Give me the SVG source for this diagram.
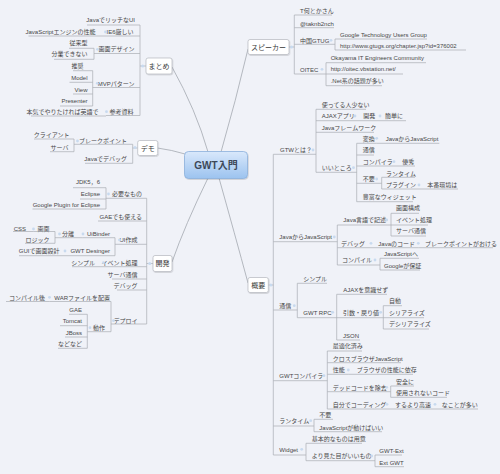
<svg xmlns="http://www.w3.org/2000/svg" width="500" height="474" viewBox="0 0 500 474">
<defs>
<linearGradient id="cg" x1="0" y1="0" x2="0" y2="1"><stop offset="0" stop-color="#d9e8fb"/><stop offset="1" stop-color="#9cc3ef"/></linearGradient>
<filter id="sh" x="-20%" y="-20%" width="140%" height="150%"><feDropShadow dx="0.6" dy="0.8" stdDeviation="0.6" flood-color="#000" flood-opacity="0.18"/></filter>
</defs>
<style>
text{font-family:"Liberation Sans","Noto Sans CJK JP",sans-serif;font-size:6px;fill:#474747}
.e{text-anchor:end}
.u{stroke:#a9adb3;stroke-width:0.7;fill:none}
.c{stroke:#a9adb3;stroke-width:0.7;fill:none}
.mc{stroke:#a3a8b0;stroke-width:0.8;fill:none}
.m{fill:#c8daef}
.box{fill:#fff;stroke:#b4b8be;stroke-width:0.7;filter:url(#sh)}
.bt{font-size:7px;text-anchor:middle;fill:#383838}
</style>
<rect width="500" height="474" fill="#f0f2f8"/>

<g id="connectors">
<path class="mc" d="M208 152 Q196 110 172 67"/>
<path class="mc" d="M221 152 Q236 100 248 49"/>
<path class="mc" d="M185 154 Q172 150 157.5 148"/>
<path class="mc" d="M208 178 Q185 225 172 262"/>
<path class="mc" d="M219 178 Q235 235 248 283"/>
<path class="c" d="M140 25V115.5M140 66H146"/>
<path class="c" d="M94 48.3V59.3"/>
<path class="c" d="M92.7 70.7V106"/>
<path class="c" d="M132.7 144.3V163.3M132.7 148H137.7"/>
<path class="c" d="M74 139V151.7"/>
<path class="c" d="M146.7 198.3V324M146.7 263.5H153"/>
<path class="c" d="M106 187.7V209"/>
<path class="c" d="M115 237.7V255.7"/>
<path class="c" d="M55 231.5V243.3"/>
<path class="c" d="M111 301.5V331.7"/>
<path class="c" d="M87.3 314.3V348.3"/>
<path class="c" d="M294.3 15V74M289 47H294.3"/>
<path class="c" d="M335 39V50"/>
<path class="c" d="M326 62.7V85.7"/>
<path class="c" d="M273.3 154.3V455M268.3 285H273.3"/>
<path class="c" d="M316 109.3V172.3"/>
<path class="c" d="M356.7 143.3V201.7"/>
<path class="c" d="M381.7 177.3V189"/>
<path class="c" d="M337.3 225V265"/>
<path class="c" d="M391 213.3V236"/>
<path class="c" d="M380 258.3V270"/>
<path class="c" d="M297.3 283.3V317.7"/>
<path class="c" d="M336.7 294.3V340"/>
<path class="c" d="M383.3 305.7V329"/>
<path class="c" d="M327.3 351V409"/>
<path class="c" d="M390.7 386V397.3"/>
<path class="c" d="M314 419.3V431.7"/>
<path class="c" d="M306 443.3V460.7"/>
<path class="c" d="M375 455V466.7"/>
</g>

<g id="central"><rect x="184.5" y="151.5" width="63" height="27" rx="4" fill="url(#cg)" stroke="#8cb0dc" stroke-width="0.8" filter="url(#sh)"/><text x="216" y="168.6" style="font-size:10px;font-weight:bold;text-anchor:middle;fill:#3c4858">GWT入門</text></g>

<g id="matome"><rect class="box" x="146" y="58" width="26" height="16" rx="2"/><text class="bt" x="159" y="68.5">まとめ</text><circle class="m" cx="142.7" cy="66" r="1.5"/></g>
<g id="demo"><rect class="box" x="137.7" y="140.5" width="20" height="15" rx="2"/><text class="bt" x="147.7" y="150.5">デモ</text><circle class="m" cx="135" cy="147.5" r="1.5"/></g>
<g id="kaihatsu"><rect class="box" x="153" y="255.5" width="19" height="16" rx="2"/><text class="bt" x="162.5" y="266">開発</text><circle class="m" cx="149.7" cy="263.5" r="1.5"/></g>
<g id="speaker"><rect class="box" x="248" y="39.5" width="41" height="15" rx="2"/><text class="bt" x="268.5" y="49.5">スピーカー</text><circle class="m" cx="291.6" cy="47" r="1.5"/></g>
<g id="gaiyou"><rect class="box" x="248" y="277.5" width="20.3" height="15" rx="2"/><text class="bt" x="258.2" y="287.5">概要</text><circle class="m" cx="270.8" cy="285" r="1.5"/></g>

<g id="m1"><text class="e" x="135" y="22.2">JavaでリッチなUI</text><path class="u" d="M87 25H140"/></g>
<g id="m2"><text class="e" x="133.5" y="33.8">IE6厳しい</text><path class="u" d="M104 36H140"/><circle class="m" cx="105.5" cy="32" r="1.4"/></g>
<g id="m2a"><text class="e" x="95.5" y="33.8">JavaScriptエンジンの性能</text><path class="u" d="M28.5 36H104"/></g>
<g id="m3"><text class="e" x="134.5" y="51.3">画面デザイン</text><path class="u" d="M94 53.5H140"/><circle class="m" cx="97.5" cy="49.3" r="1.4"/></g>
<g id="m3a"><text class="e" x="87.5" y="44.9">従来型</text><path class="u" d="M69 48.3H94"/></g>
<g id="m3b"><text class="e" x="87.5" y="55.5">分業できない</text><path class="u" d="M54 59.3H94"/></g>
<g id="m4"><text class="e" x="134.5" y="85.5">MVPパターン</text><path class="u" d="M92.7 87.5H140"/><circle class="m" cx="97.3" cy="83.3" r="1.4"/></g>
<g id="m4a"><text class="e" x="83.5" y="68.2">推奨</text><path class="u" d="M73 70.7H92.7"/></g>
<g id="m4b"><text class="e" x="87.5" y="79.5">Model</text><path class="u" d="M69.5 82.3H92.7"/></g>
<g id="m4c"><text class="e" x="87.5" y="91.5">View</text><path class="u" d="M73 94H92.7"/></g>
<g id="m4d"><text class="e" x="87.5" y="102.9">Presenter</text><path class="u" d="M60 106H92.7"/></g>
<g id="m5"><text class="e" x="133.5" y="113.9">参考資料</text><path class="u" d="M106 115.5H140"/><circle class="m" cx="106.5" cy="111.7" r="1.4"/></g>
<g id="m5a"><text class="e" x="98.5" y="113.9">本気でやりたければ英語で</text><path class="u" d="M31 116H106"/></g>

<g id="d1"><text class="e" x="127" y="143.2">ブレークポイント</text><path class="u" d="M74 144.3H132.7"/><circle class="m" cx="77.5" cy="141" r="1.4"/></g>
<g id="d1a"><text class="e" x="69.5" y="137.2">クライアント</text><path class="u" d="M34 139H74"/></g>
<g id="d1b"><text class="e" x="68.5" y="149.5">サーバ</text><path class="u" d="M50 151.7H74"/></g>
<g id="d2"><text class="e" x="127" y="160.5">Javaでデバッグ</text><path class="u" d="M85 163.3H132.7"/></g>

<g id="k1"><text class="e" x="142" y="196.2">必要なもの</text><path class="u" d="M106 198.3H146.7"/><circle class="m" cx="108.5" cy="194" r="1.4"/></g>
<g id="k1a"><text class="e" x="100" y="183.9">JDK5，6</text><path class="u" d="M73 187.7H106"/></g>
<g id="k1b"><text class="e" x="100" y="196.2">Eclipse</text><path class="u" d="M80 199H106"/></g>
<g id="k1c"><text class="e" x="100" y="207.2">Google Plugin for Eclipse</text><path class="u" d="M32.5 209H106"/></g>
<g id="k2"><text class="e" x="142" y="218.9">GAEでも使える</text><path class="u" d="M98 221H146.7"/></g>
<g id="k3"><text class="e" x="137.5" y="242.2">UI作成</text><path class="u" d="M115 244.3H146.7"/><circle class="m" cx="119.5" cy="240" r="1.4"/></g>
<g id="k3a"><text class="e" x="110" y="236.2">UiBinder</text><path class="u" d="M82.7 237.7H115"/><circle class="m" cx="83" cy="234" r="1.4"/></g>
<g id="k3a1"><text class="e" x="74" y="236.2">分離</text><path class="u" d="M55 237.7H82.7"/><circle class="m" cx="59.5" cy="234" r="1.4"/></g>
<g id="k3a1a"><text class="e" x="49.5" y="231.2">画面</text><path class="u" d="M33.3 231.5H55"/><circle class="m" cx="33.5" cy="229" r="1.4"/></g>
<g id="k3a1a1"><text class="e" x="26" y="230.7">CSS</text><path class="u" d="M13 231.5H33.3"/></g>
<g id="k3a1b"><text class="e" x="49.5" y="242.2">ロジック</text><path class="u" d="M25 243.3H55"/></g>
<g id="k3b"><text class="e" x="110" y="253.2">GWT Desinger</text><path class="u" d="M65 255.7H115"/><circle class="m" cx="65" cy="251" r="1.4"/></g>
<g id="k3b1"><text class="e" x="59.5" y="253.2">GUIで画面設計</text><path class="u" d="M19 255.7H65"/></g>
<g id="k4"><text class="e" x="137.5" y="264.9">イベント処理</text><path class="u" d="M103 266.7H146.7"/><circle class="m" cx="103.5" cy="262.7" r="1.4"/></g>
<g id="k4a"><text class="e" x="95" y="264.9">シンプル</text><path class="u" d="M72 266.7H103"/></g>
<g id="k5"><text class="e" x="137.5" y="277.2">サーバ通信</text><path class="u" d="M112 279H146.7"/></g>
<g id="k6"><text class="e" x="137.5" y="288.2">デバッグ</text><path class="u" d="M117 290H146.7"/></g>
<g id="k7"><text class="e" x="137.5" y="322.9">デプロイ</text><path class="u" d="M111 324H146.7"/><circle class="m" cx="113.5" cy="320.7" r="1.4"/></g>
<g id="k7a"><text class="e" x="110" y="299.5">WARファイルを配置</text><path class="u" d="M49.3 301.5H111"/><circle class="m" cx="49.5" cy="297.3" r="1.4"/></g>
<g id="k7a1"><text class="e" x="45" y="299.5">コンパイル後</text><path class="u" d="M6 301.5H49.3"/></g>
<g id="k7b"><text class="e" x="105" y="329.9">動作</text><path class="u" d="M87.3 331.7H111"/><circle class="m" cx="90" cy="327.7" r="1.4"/></g>
<g id="k7b1"><text class="e" x="82" y="311.5">GAE</text><path class="u" d="M69 314.3H87.3"/></g>
<g id="k7b2"><text class="e" x="82" y="322.9">Tomcat</text><path class="u" d="M60 325.7H87.3"/></g>
<g id="k7b3"><text class="e" x="82" y="334.5">JBoss</text><path class="u" d="M65 337H87.3"/></g>
<g id="k7b4"><text class="e" x="82" y="345.5">などなど</text><path class="u" d="M58 348.3H87.3"/></g>

<g id="s1"><text x="300" y="13.2">T何とかさん</text><path class="u" d="M294.3 15H332"/></g>
<g id="s2"><text x="300" y="25.5">@taknb2nch</text><path class="u" d="M294.3 27.7H334"/></g>
<g id="s3"><text x="300" y="42.5">中国GTUG</text><path class="u" d="M294.3 44.3H335"/><circle class="m" cx="331" cy="40.3" r="1.4"/></g>
<g id="s3a"><text x="340" y="36.5">Google Technology Users Group</text><path class="u" d="M335 39H427"/></g>
<g id="s3b"><text x="340" y="47.9">http://www.gtugs.org/chapter.jsp?id=376002</text><path class="u" d="M335 50H466"/></g>
<g id="s4"><text x="300" y="71.5">OITEC</text><path class="u" d="M294.3 74H326"/><circle class="m" cx="322" cy="69.3" r="1.4"/></g>
<g id="s4a"><text x="330.7" y="59.5">Okayama IT Engineers Community</text><path class="u" d="M326 62.7H426"/></g>
<g id="s4b"><text x="330.7" y="71.2">http://oitec.vbstation.net/</text><path class="u" d="M326 74H403"/></g>
<g id="s4c"><text x="330.7" y="82.9">.Net系の話題が多い</text><path class="u" d="M326 85.7H382"/></g>

<g id="g1"><text x="280" y="152.2">GTWとは？</text><path class="u" d="M273.3 154.3H316"/><circle class="m" cx="313" cy="150" r="1.4"/></g>
<g id="g1a"><text x="321.7" y="106.5">使ってる人少ない</text><path class="u" d="M316 109.3H366"/></g>
<g id="g1b"><text x="321.7" y="118.2">AJAXアプリ</text><path class="u" d="M316 120.7H355"/><circle class="m" cx="355" cy="116" r="1.4"/></g>
<g id="g1b1"><text x="363.3" y="118.2">開発</text><path class="u" d="M355 120.7H380"/><circle class="m" cx="380" cy="116" r="1.4"/></g>
<g id="g1b1a"><text x="385" y="118.2">簡単に</text><path class="u" d="M380 120.7H406"/></g>
<g id="g1c"><text x="321.7" y="129.9">Javaフレームワーク</text><path class="u" d="M316 132.3H374"/></g>
<g id="g1d"><text x="321.7" y="169.9">いいところ</text><path class="u" d="M316 172.3H356.7"/><circle class="m" cx="353.5" cy="167.7" r="1.4"/></g>
<g id="g1d1"><text x="362.7" y="140.5">変換</text><path class="u" d="M356.7 143.3H376.7"/><circle class="m" cx="376.7" cy="138.3" r="1.4"/></g>
<g id="g1d1a"><text x="385.7" y="140.5">JavaからJavaScript</text><path class="u" d="M376.7 143.3H439.3"/></g>
<g id="g1d2"><text x="362.7" y="152.2">通信</text><path class="u" d="M356.7 155H374"/></g>
<g id="g1d3"><text x="362.7" y="163.9">コンパイラ</text><path class="u" d="M356.7 166H394"/><circle class="m" cx="394" cy="161.7" r="1.4"/></g>
<g id="g1d3a"><text x="402.3" y="163.9">優秀</text><path class="u" d="M394 166H415"/></g>
<g id="g1d4"><text x="362.7" y="181.2">不要</text><path class="u" d="M356.7 183.3H381.7"/><circle class="m" cx="376.7" cy="179" r="1.4"/></g>
<g id="g1d4a"><text x="386" y="175.5">ランタイム</text><path class="u" d="M381.7 177.3H415"/></g>
<g id="g1d4b"><text x="386" y="187.2">プラグイン</text><path class="u" d="M381.7 189H419"/><circle class="m" cx="419" cy="185" r="1.4"/></g>
<g id="g1d4b1"><text x="427.3" y="187.2">本番環境は</text><path class="u" d="M419 189H458"/></g>
<g id="g1d5"><text x="362.7" y="198.9">豊富なウィジェット</text><path class="u" d="M356.7 201.7H413"/></g>

<g id="g2"><text x="279.3" y="239.2">JavaからJavaScript</text><path class="u" d="M273.3 241.7H337.3"/><circle class="m" cx="334.3" cy="237" r="1.4"/></g>
<g id="g2a"><text x="343.3" y="222.2">Java言語で記述</text><path class="u" d="M337.3 225H391"/><circle class="m" cx="386.7" cy="220" r="1.4"/></g>
<g id="g2a1"><text x="396" y="209.9">画面構成</text><path class="u" d="M391 213.3H419"/></g>
<g id="g2a2"><text x="396" y="222.2">イベント処理</text><path class="u" d="M391 225H428"/></g>
<g id="g2a3"><text x="396" y="233.2">サーバ通信</text><path class="u" d="M391 236H426"/></g>
<g id="g2b"><text x="341" y="245.5">デバッグ</text><path class="u" d="M337.3 247.7H371"/><circle class="m" cx="371" cy="243.3" r="1.4"/></g>
<g id="g2b1"><text x="378.3" y="245.5">Javaのコード</text><path class="u" d="M371 247.7H418.3"/><circle class="m" cx="418.3" cy="243.3" r="1.4"/></g>
<g id="g2b1a"><text x="425" y="245.5">ブレークポイントがおける</text><path class="u" d="M418.3 247.7H493"/></g>
<g id="g2c"><text x="342" y="262.2">コンパイル</text><path class="u" d="M337.3 265H380"/><circle class="m" cx="375" cy="260" r="1.4"/></g>
<g id="g2c1"><text x="384" y="256.2">JavaScriptへ</text><path class="u" d="M380 258.3H419"/></g>
<g id="g2c2"><text x="384" y="267.9">Googleが保証</text><path class="u" d="M380 270H420"/></g>

<g id="g3"><text x="279.3" y="307.9">通信</text><path class="u" d="M273.3 310H297.3"/><circle class="m" cx="294.3" cy="305.7" r="1.4"/></g>
<g id="g3a"><text x="303.3" y="280.5">シンプル</text><path class="u" d="M297.3 283.3H327"/></g>
<g id="g3b"><text x="303.3" y="314.5">GWT RPC</text><path class="u" d="M297.3 317.7H336.7"/><circle class="m" cx="332.7" cy="312.3" r="1.4"/></g>
<g id="g3b1"><text x="343.3" y="291.5">AJAXを意識せず</text><path class="u" d="M336.7 294.3H387"/></g>
<g id="g3b2"><text x="343" y="314.5">引数・戻り値</text><path class="u" d="M336.7 317.7H383.3"/><circle class="m" cx="380.7" cy="312.3" r="1.4"/></g>
<g id="g3b2a"><text x="389" y="302.9">自動</text><path class="u" d="M383.3 305.7H402"/></g>
<g id="g3b2b"><text x="389" y="314.5">シリアライズ</text><path class="u" d="M383.3 317.7H424"/></g>
<g id="g3b2c"><text x="389" y="326.2">デシリアライズ</text><path class="u" d="M383.3 329H429"/></g>
<g id="g3b3"><text x="343" y="337.9">JSON</text><path class="u" d="M336.7 340H360"/></g>

<g id="g4"><text x="279.3" y="377.9">GWTコンパイラ</text><path class="u" d="M273.3 380.7H327.3"/><circle class="m" cx="324" cy="375.7" r="1.4"/></g>
<g id="g4a"><text x="332.7" y="348.2">最適化済み</text><path class="u" d="M327.3 351H362"/></g>
<g id="g4b"><text x="332.7" y="360.5">クロスブラウザJavaScript</text><path class="u" d="M327.3 362.7H401"/></g>
<g id="g4c"><text x="332.7" y="372.2">性能</text><path class="u" d="M327.3 374.3H348.3"/><circle class="m" cx="348.3" cy="370" r="1.4"/></g>
<g id="g4c1"><text x="356.7" y="372.2">ブラウザの性能に依存</text><path class="u" d="M348.3 374.3H413"/></g>
<g id="g4d"><text x="332.7" y="389.5">デッドコードを除去</text><path class="u" d="M327.3 391.7H390.7"/><circle class="m" cx="386.7" cy="387.3" r="1.4"/></g>
<g id="g4d1"><text x="396" y="383.9">安全に</text><path class="u" d="M390.7 386H414"/></g>
<g id="g4d2"><text x="396" y="394.9">使用されないコード</text><path class="u" d="M390.7 397.3H447"/></g>
<g id="g4e"><text x="332.7" y="406.5">自分でコーディング</text><path class="u" d="M327.3 409H387"/><circle class="m" cx="387" cy="404.3" r="1.4"/></g>
<g id="g4e1"><text x="395" y="406.5">するより高速</text><path class="u" d="M387 409H435"/><circle class="m" cx="435" cy="404.3" r="1.4"/></g>
<g id="g4e1a"><text x="441.7" y="406.5">なことが多い</text><path class="u" d="M435 409H478"/></g>

<g id="g5"><text x="279.3" y="422.9">ランタイム</text><path class="u" d="M273.3 426H314"/><circle class="m" cx="310.7" cy="420.7" r="1.4"/></g>
<g id="g5a"><text x="319.3" y="417.2">不要</text><path class="u" d="M314 419.3H333"/></g>
<g id="g5b"><text x="319.3" y="429.5">JavaScriptが動けばいい</text><path class="u" d="M314 431.7H382"/></g>

<g id="g6"><text x="279.3" y="451.5">Widget</text><path class="u" d="M273.3 455H306"/><circle class="m" cx="301.7" cy="449.3" r="1.4"/></g>
<g id="g6a"><text x="311.7" y="440.5">基本的なものは用意</text><path class="u" d="M306 443.3H362"/></g>
<g id="g6b"><text x="311.7" y="458.2">より見た目がいいもの</text><path class="u" d="M306 460.7H375"/><circle class="m" cx="371.7" cy="456" r="1.4"/></g>
<g id="g6b1"><text x="379.3" y="452.9">GWT-Ext</text><path class="u" d="M375 455H402"/></g>
<g id="g6b2"><text x="379.3" y="464.9">Ext GWT</text><path class="u" d="M375 466.7H404"/></g>
</svg>
